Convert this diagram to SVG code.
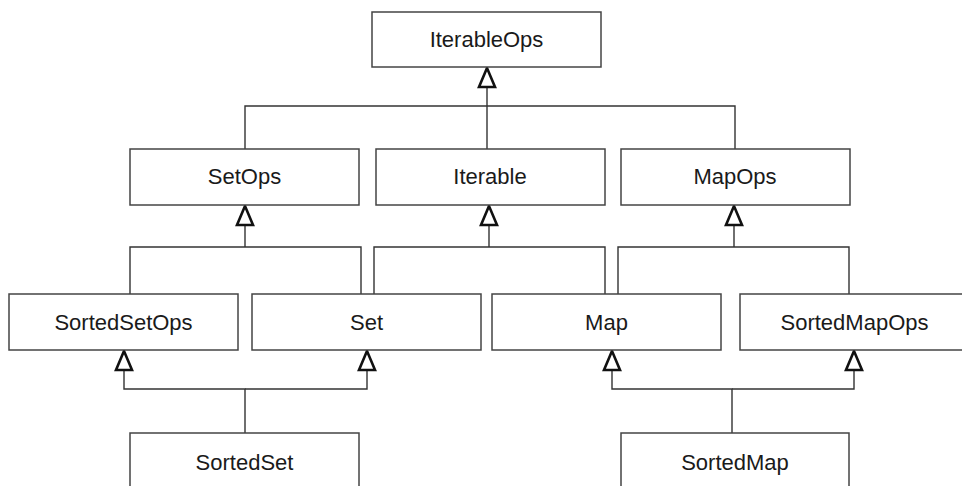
<svg xmlns="http://www.w3.org/2000/svg" width="962" height="486" viewBox="0 0 962 486">
<style>
.box{fill:#fff;stroke:#444;stroke-width:1.5}
.lbl{font-family:"Liberation Sans",Arial,sans-serif;font-size:22px;fill:#1a1a1a;text-anchor:middle}
.con{fill:none;stroke:#333;stroke-width:1.4}
</style>
<defs>
<marker id="tri" markerUnits="userSpaceOnUse" viewBox="-23 -11 26 22" refX="0" refY="0" markerWidth="26" markerHeight="22" orient="auto" overflow="visible">
<path d="M0,0 L-19,-8 L-19,8 Z" fill="#fff" stroke="#111" stroke-width="2.6" stroke-linejoin="miter"/>
</marker>
</defs>
<rect width="962" height="486" fill="#fff"/>
<g id="connectors">
<path class="con" d="M245,149 V106 H735 V149"/>
<path class="con" d="M487,149 V68" marker-end="url(#tri)"/>
<path class="con" d="M130,294 V247 H361 V294"/>
<path class="con" d="M245,247 V206" marker-end="url(#tri)"/>
<path class="con" d="M374,294 V247 H605 V294"/>
<path class="con" d="M489,247 V206" marker-end="url(#tri)"/>
<path class="con" d="M618,294 V247 H849 V294"/>
<path class="con" d="M734,247 V206" marker-end="url(#tri)"/>
<path class="con" d="M245,433 V389 H124 V351" marker-end="url(#tri)"/>
<path class="con" d="M245,389 H367 V351" marker-end="url(#tri)"/>
<path class="con" d="M732,433 V389 H612 V351" marker-end="url(#tri)"/>
<path class="con" d="M732,389 H854 V351" marker-end="url(#tri)"/>
</g>
<g id="IterableOps"><rect class="box" x="372" y="12" width="229" height="55"/><text class="lbl" x="486.5" y="47">IterableOps</text></g>
<g id="SetOps"><rect class="box" x="130" y="149" width="229" height="56"/><text class="lbl" x="244.5" y="184">SetOps</text></g>
<g id="Iterable"><rect class="box" x="376" y="149" width="229" height="56"/><text class="lbl" x="490" y="184">Iterable</text></g>
<g id="MapOps"><rect class="box" x="621" y="149" width="229" height="56"/><text class="lbl" x="735" y="184">MapOps</text></g>
<g id="SortedSetOps"><rect class="box" x="9" y="294" width="229" height="56"/><text class="lbl" x="123.5" y="330">SortedSetOps</text></g>
<g id="Set"><rect class="box" x="252" y="294" width="229" height="56"/><text class="lbl" x="366.5" y="330">Set</text></g>
<g id="Map"><rect class="box" x="492" y="294" width="229" height="56"/><text class="lbl" x="606.5" y="330">Map</text></g>
<g id="SortedMapOps"><rect class="box" x="740" y="294" width="229" height="56"/><text class="lbl" x="854.5" y="330">SortedMapOps</text></g>
<g id="SortedSet"><rect class="box" x="130" y="433" width="229" height="80"/><text class="lbl" x="244.5" y="470">SortedSet</text></g>
<g id="SortedMap"><rect class="box" x="621" y="433" width="228" height="80"/><text class="lbl" x="735" y="470">SortedMap</text></g>
</svg>
